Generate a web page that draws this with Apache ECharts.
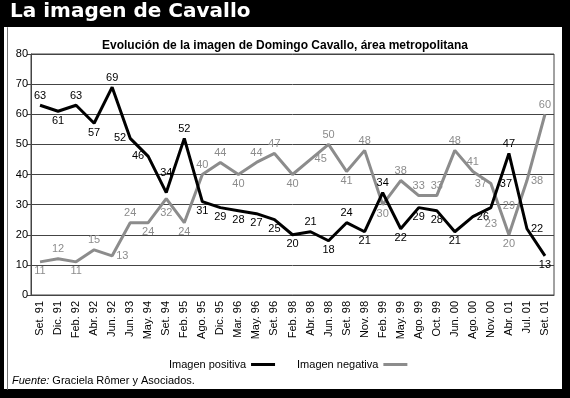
<!DOCTYPE html>
<html>
<head>
<meta charset="utf-8">
<script src="https://cdn.jsdelivr.net/npm/echarts@6/dist/echarts.min.js"></script>
<style>
  html, body { margin: 0; padding: 0; background: #000; }
  #chart { width: 570px; height: 398px; }
</style>
</head>
<body>
<div id="chart"></div>
<script>
// datos
var fechas = ['Set. 91', 'Dic. 91', 'Feb. 92', 'Abr. 92', 'Jun. 92', 'Jun. 93', 'May. 94', 'Set. 94',
    'Feb. 95', 'Ago. 95', 'Dic. 95', 'Mar. 96', 'May. 96', 'Set. 96', 'Feb. 98', 'Abr. 98', 'Jun. 98',
    'Set. 98', 'Nov. 98', 'Feb. 99', 'May. 99', 'Ago. 99', 'Oct. 99', 'Jun. 00', 'Ago. 00', 'Nov. 00',
    'Abr. 01', 'Jul. 01', 'Set. 01'];
var positiva = [63, 61, 63, 57, 69, 52, 46, 34, 52, 31, 29, 28, 27, 25, 20, 21, 18, 24, 21, 34, 22, 29, 28,
    21, 26, 29, 47, 22, 13];
var negativa = [11, 12, 11, 15, 13, 24, 24, 32, 24, 40, 44, 40, 44, 47, 40, 45, 50, 41, 48, 30, 38, 33, 33,
    48, 41, 37, 20, 38, 60];
// rotulos sueltos que trae el original
var notasPositiva = [['Abr. 01', 37]];
var notasNegativa = [['Nov. 00', 23], ['Abr. 01', 29]];
var yTicks = [0, 10, 20, 30, 40, 50, 60, 70, 80];

// donde va cada rotulo (null = sin rotulo, [pos, distancia] si hace falta alejarlo)
var posPositiva = ['top', 'bottom', 'top', 'bottom', 'top', 'left', 'left', ['top', 14], 'top', 'bottom',
    'bottom', 'bottom', 'bottom', 'bottom', 'bottom', 'top', 'bottom', 'top', 'bottom', 'top', 'bottom',
    'bottom', 'bottom', 'bottom', 'right', null, 'top', 'right', 'bottom'];
var posNegativa = ['bottom', 'top', 'bottom', 'top', 'right', 'top', 'bottom', ['bottom', 9], 'bottom', 'top',
    'top', 'bottom', 'top', 'top', 'bottom', 'right', 'top', 'bottom', 'top', 'bottom', 'top', 'top', 'top',
    'top', 'top', 'left', 'bottom', 'right', 'top'];

var FONT = 'Liberation Sans, Arial, sans-serif';

function armar(valores, posiciones) {
    return valores.map(function (v, i) {
        var p = posiciones[i];
        if (!p) return {value: v, label: {show: false}};
        if (typeof p === 'string') return {value: v, label: {show: true, position: p}};
        return {value: v, label: {show: true, position: p[0], distance: p[1]}};
    });
}

function notas(lista, color) {
    return lista.map(function (n) {
        return {coord: n, value: n[1], label: {color: color}};
    });
}

var myChart = echarts.init(document.getElementById('chart'));
var option = {
    animation: false,
    backgroundColor: '#000',
    textStyle: {fontFamily: FONT},
    graphic: [
        {type: 'rect', left: 4, top: 27, shape: {width: 558, height: 362}, style: {fill: '#fff'}, z: -10},
        {type: 'rect', left: 7, top: 27, shape: {width: 0, height: 362}, style: {stroke: '#777', lineWidth: 1}, z: -9},
        {
            type: 'text', left: 10, top: 2,
            style: {text: 'La imagen de Cavallo', fill: '#fff', font: 'bold 20px DejaVu Sans, sans-serif'}
        },
        {
            type: 'text', left: 12, top: 375,
            style: {
                text: '{i|Fuente:} Graciela Rômer y Asociados.',
                fill: '#000', font: '11px ' + FONT,
                rich: {i: {fontStyle: 'italic', fontSize: 11, fontFamily: FONT}}
            }
        }
    ],
    title: {
        text: 'Evolución de la imagen de Domingo Cavallo, área metropolitana',
        left: 'center', top: 35,
        textStyle: {fontSize: 12, fontWeight: 'bold', color: '#000', fontFamily: FONT}
    },
    legend: {
        left: 164, top: 354,
        align: 'right',
        icon: 'rect',
        itemWidth: 24, itemHeight: 3,
        itemGap: 22,
        textStyle: {fontSize: 11, color: '#000', fontFamily: FONT},
        data: ['Imagen positiva', 'Imagen negativa']
    },
    grid: {
        left: 31, right: 16, top: 54, bottom: 103,
        show: true, borderColor: '#444', borderWidth: 1
    },
    xAxis: {
        type: 'category',
        data: fechas,
        boundaryGap: true,
        axisLine: {lineStyle: {color: '#444'}},
        axisTick: {show: false},
        axisLabel: {rotate: 90, fontSize: 11, color: '#000', margin: 6, interval: 0, fontFamily: FONT}
    },
    yAxis: {
        type: 'value',
        min: yTicks[0], max: yTicks[yTicks.length - 1], interval: 10,
        axisLine: {show: true, lineStyle: {color: '#444'}},
        axisTick: {show: true, length: 4, lineStyle: {color: '#444'}},
        axisLabel: {fontSize: 11, color: '#000', margin: 3, fontFamily: FONT},
        splitLine: {lineStyle: {color: '#444', width: 1}}
    },
    series: [
        {
            name: 'Imagen positiva',
            type: 'line',
            data: armar(positiva, posPositiva),
            symbol: 'circle', symbolSize: 0, showSymbol: true,
            lineStyle: {color: '#000', width: 3},
            itemStyle: {color: '#000'},
            label: {show: true, fontSize: 11, color: '#000', distance: 4, fontFamily: FONT},
            markPoint: {
                symbol: 'circle', symbolSize: 0,
                label: {show: true, position: 'inside', fontSize: 11, offset: [-3, 0], fontFamily: FONT},
                data: notas(notasPositiva, '#000')
            },
            z: 3
        },
        {
            name: 'Imagen negativa',
            type: 'line',
            data: armar(negativa, posNegativa),
            symbol: 'circle', symbolSize: 0, showSymbol: true,
            lineStyle: {color: '#8c8c8c', width: 3},
            itemStyle: {color: '#8c8c8c'},
            label: {show: true, fontSize: 11, color: '#8c8c8c', distance: 4, fontFamily: FONT},
            markPoint: {
                symbol: 'circle', symbolSize: 0,
                label: {show: true, position: 'inside', fontSize: 11, offset: [0, -2], fontFamily: FONT},
                data: notas(notasNegativa, '#8c8c8c')
            },
            z: 2
        }
    ]
};
myChart.setOption(option);
</script>
</body>
</html>
